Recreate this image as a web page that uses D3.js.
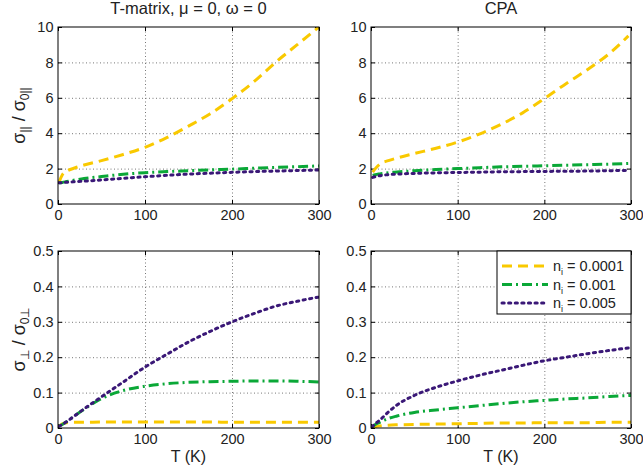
<!DOCTYPE html>
<html>
<head>
  <meta charset="UTF-8">
  <title>sigma vs T</title>
  <script src="https://d3js.org/d3.v7.min.js"></script>
  <style>
    body { margin: 0; background: #fff; font-family: "Liberation Sans", Arial, sans-serif; }
    .tick text { font-size: 14.5px; fill: #222; }
    .grid line { stroke: #777; stroke-dasharray: 1,2.5; }
    .grid path { display: none; }
  </style>
</head>
<body>
<div id="chart"></div>
<script>
// temperatures (K)
const tFull = [1, 5, 10, 20, 30, 50, 75, 100, 125, 150, 175, 200, 225, 250, 275, 300];
const tCpa  = [2, 5, 10, 20, 30, 50, 75, 100, 125, 150, 175, 200, 225, 250, 275, 297];

// T-matrix, parallel
const tmParYellow = [1.2, 1.65, 1.85, 2.05, 2.2, 2.45, 2.8, 3.2, 3.75, 4.4, 5.1, 5.95, 6.9, 8.0, 9.0, 10.0];
const tmParGreen  = [1.2, 1.22, 1.27, 1.36, 1.44, 1.55, 1.68, 1.77, 1.83, 1.88, 1.93, 1.97, 2.02, 2.07, 2.11, 2.15];
const tmParPurple = [1.2, 1.21, 1.23, 1.26, 1.29, 1.36, 1.45, 1.54, 1.62, 1.69, 1.74, 1.79, 1.83, 1.86, 1.89, 1.92];
// CPA, parallel
const cpaParYellow = [1.8, 2.0, 2.25, 2.45, 2.6, 2.85, 3.15, 3.5, 3.95, 4.5, 5.15, 5.95, 6.8, 7.6, 8.5, 9.5];
const cpaParGreen  = [1.6, 1.65, 1.7, 1.77, 1.81, 1.88, 1.95, 2.0, 2.05, 2.1, 2.13, 2.16, 2.19, 2.22, 2.25, 2.29];
const cpaParPurple = [1.5, 1.55, 1.6, 1.66, 1.69, 1.73, 1.76, 1.78, 1.8, 1.82, 1.83, 1.84, 1.85, 1.86, 1.88, 1.9];
// T-matrix, perpendicular
const tmPerpYellow = [0.005, 0.012, 0.015, 0.016, 0.016, 0.017, 0.017, 0.017, 0.017, 0.017, 0.017, 0.016, 0.016, 0.016, 0.016, 0.016];
const tmPerpGreen  = [0.005, 0.01, 0.018, 0.036, 0.053, 0.083, 0.106, 0.118, 0.125, 0.129, 0.131, 0.132, 0.133, 0.133, 0.132, 0.13];
const tmPerpPurple = [0.005, 0.01, 0.018, 0.036, 0.054, 0.088, 0.13, 0.172, 0.208, 0.243, 0.273, 0.30, 0.323, 0.344, 0.358, 0.37];
// CPA, perpendicular
const cpaPerpYellow = [0.002, 0.004, 0.006, 0.008, 0.009, 0.01, 0.011, 0.012, 0.013, 0.014, 0.014, 0.015, 0.015, 0.015, 0.016, 0.016];
const cpaPerpGreen  = [0.003, 0.01, 0.016, 0.027, 0.034, 0.044, 0.051, 0.057, 0.063, 0.069, 0.074, 0.078, 0.082, 0.085, 0.089, 0.092];
const cpaPerpPurple = [0.003, 0.012, 0.022, 0.045, 0.065, 0.092, 0.115, 0.133, 0.149, 0.163, 0.177, 0.19, 0.2, 0.21, 0.219, 0.227];

const xTicks = [0, 100, 200, 300];
const yTicksPar = [0, 2, 4, 6, 8, 10];
const yTicksPerp = [0, 0.1, 0.2, 0.3, 0.4, 0.5];
const legendLabels = ["0.0001", "0.001", "0.005"];

const styles = [
  {color: "#f9c900", dash: "10,6"},
  {color: "#0aa837", dash: "10,4,2,4"},
  {color: "#3a1877", dash: "2.2,4.4"}
];

const W = 643, H = 472;
const svg = d3.select("#chart").append("svg").attr("width", W).attr("height", H);

const panels = [
  {x0: 58, x1: 319, y0: 27, y1: 204, t: tFull, series: [tmParYellow, tmParGreen, tmParPurple], ymax: 10, yt: yTicksPar, title: "T-matrix, \u03bc = 0, \u03c9 = 0", ylab: "par", fmt: d3.format("d")},
  {x0: 371, x1: 631, y0: 27, y1: 204, t: tCpa, series: [cpaParYellow, cpaParGreen, cpaParPurple], ymax: 10, yt: yTicksPar, title: "CPA", fmt: d3.format("d")},
  {x0: 58, x1: 319, y0: 251, y1: 428, t: tFull, series: [tmPerpYellow, tmPerpGreen, tmPerpPurple], ymax: 0.5, yt: yTicksPerp, ylab: "perp", xlab: true, fmt: d => d === 0 ? "0" : d3.format(".1f")(d)},
  {x0: 371, x1: 631, y0: 251, y1: 428, t: tFull, series: [cpaPerpYellow, cpaPerpGreen, cpaPerpPurple], ymax: 0.5, yt: yTicksPerp, xlab: true, legend: true, fmt: d => d === 0 ? "0" : d3.format(".1f")(d)}
];

panels.forEach((p, i) => {
  const w = p.x1 - p.x0, h = p.y1 - p.y0;
  const x = d3.scaleLinear().domain([0, 300]).range([0, w]);
  const y = d3.scaleLinear().domain([0, p.ymax]).range([h, 0]);
  const g = svg.append("g").attr("transform", `translate(${p.x0},${p.y0})`);

  g.append("clipPath").attr("id", "clip" + i)
    .append("rect").attr("width", w).attr("height", h);

  // grid
  g.append("g").attr("class", "grid").attr("transform", `translate(0,${h})`)
    .call(d3.axisBottom(x).tickValues([100, 200]).tickSize(-h).tickFormat(""));
  g.append("g").attr("class", "grid")
    .call(d3.axisLeft(y).tickValues(p.yt.slice(1, -1)).tickSize(-w).tickFormat(""));

  // axes (inward ticks, box)
  g.append("g").attr("transform", `translate(0,${h})`)
    .call(d3.axisBottom(x).tickValues(xTicks).tickSizeInner(-4).tickSizeOuter(0).tickPadding(6))
    .call(a => a.select(".domain").remove());
  g.append("g")
    .call(d3.axisTop(x).tickValues(xTicks).tickSizeInner(-4).tickSizeOuter(0).tickFormat(""))
    .call(a => a.select(".domain").remove());
  g.append("g")
    .call(d3.axisLeft(y).tickValues(p.yt).tickSizeInner(-4).tickSizeOuter(0).tickPadding(4.5).tickFormat(p.fmt))
    .call(a => a.select(".domain").remove());
  g.append("g").attr("transform", `translate(${w},0)`)
    .call(d3.axisRight(y).tickValues(p.yt).tickSizeInner(-4).tickSizeOuter(0).tickFormat(""))
    .call(a => a.select(".domain").remove());

  // series
  const line = d3.line().x(d => x(d[0])).y(d => y(d[1])).curve(d3.curveMonotoneX);
  const plot = g.append("g").attr("clip-path", `url(#clip${i})`);
  p.series.forEach((s, k) => {
    plot.append("path")
      .datum(p.t.map((t, j) => [t, s[j]]))
      .attr("fill", "none")
      .attr("stroke", styles[k].color)
      .attr("stroke-width", 3)
      .attr("stroke-dasharray", styles[k].dash)
      .attr("stroke-linecap", k === 2 ? "round" : "butt")
      .attr("d", line);
  });

  g.append("rect").attr("width", w).attr("height", h)
    .attr("fill", "none").attr("stroke", "#000").attr("stroke-width", 1);

  if (p.title) {
    svg.append("text").attr("x", p.x0 + w / 2).attr("y", 14)
      .attr("text-anchor", "middle").style("font-size", "16.5px").attr("fill", "#222")
      .text(p.title);
  }
  if (p.xlab) {
    svg.append("text").attr("x", p.x0 + w / 2).attr("y", 462)
      .attr("text-anchor", "middle").style("font-size", "16px").attr("fill", "#222")
      .text("T (K)");
  }
  if (p.ylab) {
    const sub = p.ylab === "par" ? "||" : "\u22a5";
    const t = svg.append("text")
      .attr("transform", `translate(25,${p.y0 + h / 2}) rotate(-90)`)
      .attr("text-anchor", "middle").style("font-size", "18px").attr("fill", "#222");
    t.append("tspan").text("\u03c3");
    t.append("tspan").attr("dy", 4).style("font-size", "12px").text(sub);
    t.append("tspan").attr("dy", -4).text(" / \u03c3");
    t.append("tspan").attr("dy", 4).style("font-size", "12px").text("0" + sub);
  }
  if (p.legend) {
    const lx = 497 - p.x0, ly = 0, lw = p.x1 - 497, lh = 63;
    const lg = g.append("g");
    lg.append("rect").attr("x", lx).attr("y", ly).attr("width", lw).attr("height", lh)
      .attr("fill", "#fff").attr("stroke", "#000");
    legendLabels.forEach((lab, k) => {
      const yy = ly + 15 + k * 18.5;
      lg.append("line").attr("x1", lx + 5).attr("x2", lx + 51).attr("y1", yy).attr("y2", yy)
        .attr("stroke", styles[k].color).attr("stroke-width", 3)
        .attr("stroke-dasharray", styles[k].dash)
        .attr("stroke-linecap", k === 2 ? "round" : "butt");
      const t = lg.append("text").attr("x", lx + 56).attr("y", yy + 5)
        .style("font-size", "14.5px").attr("fill", "#222");
      t.append("tspan").text("n");
      t.append("tspan").attr("dy", 4).style("font-size", "9px").text("i");
      t.append("tspan").attr("dy", -4).text(" = " + lab);
    });
  }
});
</script>
</body>
</html>
